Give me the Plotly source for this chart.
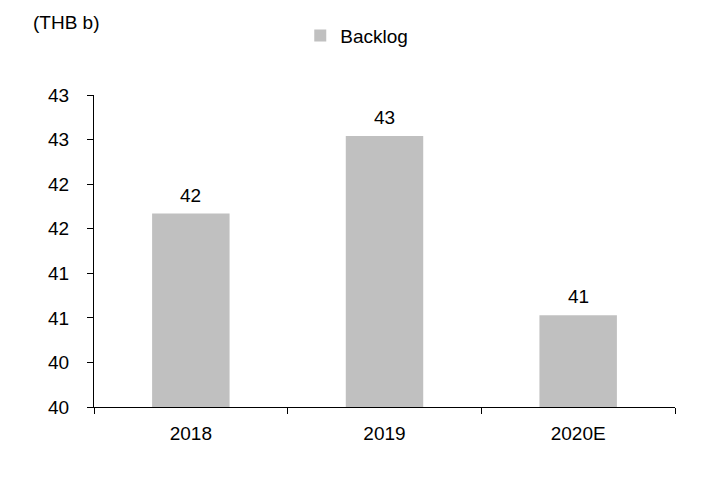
import plotly.graph_objects as go

# Order backlog by year
years = ["2018", "2019", "2020E"]
backlog = [42.17, 43.04, 41.03]

# Y-axis tick positions and their (rounded) labels
y_tick_vals = [40.0, 40.5, 41.0, 41.5, 42.0, 42.5, 43.0, 43.5]
y_tick_text = ["40", "40", "41", "41", "42", "42", "43", "43"]

FONT = "Liberation Sans, Arial, sans-serif"
FS = 19

fig = go.Figure()
fig.add_trace(go.Bar(
    x=years,
    y=backlog,
    name="Backlog",
    marker=dict(color="#C0C0C0", line=dict(width=0)),
))

# Value labels above each bar, rounded to whole billions
# (category positions are given by index so year-like names are not read as numbers)
for idx, val in enumerate(backlog):
    fig.add_annotation(
        x=idx, y=val, xref="x", yref="y",
        text=f"{val:.0f}",
        showarrow=False,
        yanchor="bottom",
        yshift=6,
        font=dict(family=FONT, size=FS, color="#000000"),
    )

fig.add_annotation(
    text="(THB b)",
    xref="paper", yref="paper",
    x=-0.108, xanchor="left",
    y=1.232, yanchor="middle",
    showarrow=False,
    font=dict(family=FONT, size=FS, color="#000000"),
)

fig.update_layout(
    width=709,
    height=478,
    margin=dict(l=94, r=34, t=95, b=71),
    paper_bgcolor="white",
    plot_bgcolor="white",
    font=dict(family=FONT, size=FS, color="#000000"),
    bargap=0.6,
    showlegend=True,
    legend=dict(
        orientation="h",
        x=0.355, xanchor="left",
        y=1.19, yanchor="middle",
        font=dict(family=FONT, size=FS, color="#000000"),
        itemwidth=30,
        bgcolor="rgba(0,0,0,0)",
    ),
)

fig.update_xaxes(
    type="category",
    range=[-0.5, 2.5],
    showline=True, linecolor="#000000", linewidth=1.3,
    ticks="outside", tickson="boundaries", ticklen=6, tickcolor="#000000", tickwidth=1.3,
    ticklabelstandoff=9,
    showgrid=False, zeroline=False,
    tickfont=dict(family=FONT, size=FS, color="#000000"),
)
fig.update_yaxes(
    range=[40, 43.5],
    tickvals=y_tick_vals,
    ticktext=y_tick_text,
    showline=True, linecolor="#000000", linewidth=1.3,
    ticks="outside", ticklen=6, tickcolor="#000000", tickwidth=1.3,
    ticklabelstandoff=14,
    showgrid=False, zeroline=False,
    tickfont=dict(family=FONT, size=FS, color="#000000"),
)

fig.write_html("out.html")
